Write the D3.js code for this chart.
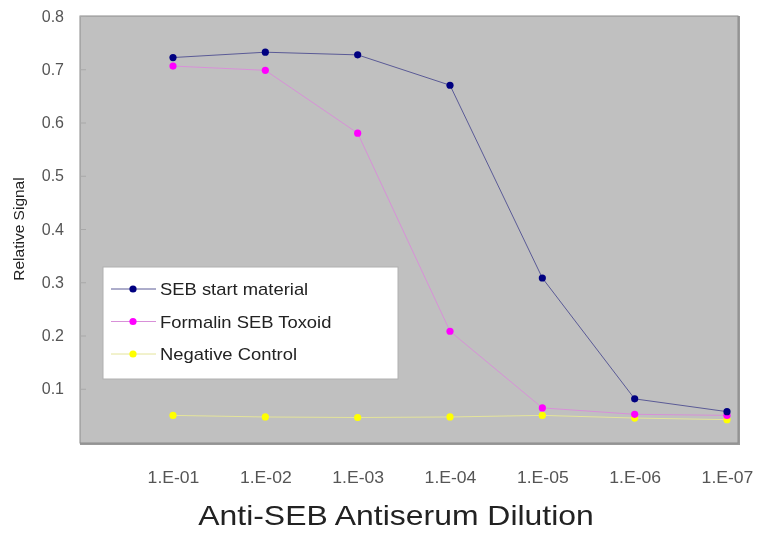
<!DOCTYPE html>
<html>
<head>
<style>
	body { margin: 0; background: #fff; }
	#chart { position: fixed; left: 0; top: 0; width: 757px; height: 533px; }
	text { font-family: "Liberation Sans", Arial, sans-serif; }
</style>
<script src="https://d3js.org/d3.v7.min.js"></script>
</head>
<body>
<div id="chart"></div>
<script>
	// Data
	var dilutions = ["1.E-01", "1.E-02", "1.E-03", "1.E-04", "1.E-05", "1.E-06", "1.E-07"];
	var sebStart = [0.722, 0.732, 0.727, 0.670, 0.308, 0.081, 0.057];
	var formalinToxoid = [0.706, 0.698, 0.580, 0.208, 0.064, 0.052, 0.050];
	var negativeControl = [0.050, 0.047, 0.046, 0.047, 0.050, 0.045, 0.042];
	var yTicks = [0.1, 0.2, 0.3, 0.4, 0.5, 0.6, 0.7, 0.8];

	var seriesList = [
		{name: "SEB start material", values: sebStart, color: "#000080", line: "#5a5a96"},
		{name: "Formalin SEB Toxoid", values: formalinToxoid, color: "#ff00ff", line: "#d890d8"},
		{name: "Negative Control", values: negativeControl, color: "#ffff00", line: "#e4e49a"}
	];

	function drawGraphic() {
		var margin = {top: 16, right: 19, bottom: 90, left: 80},
			width = 757 - margin.left - margin.right,
			height = 533 - margin.top - margin.bottom;

		var svg = d3.select("#chart").append("svg")
			.attr("width", 757)
			.attr("height", 533);

		var g = svg.append("g")
			.attr("transform", "translate(" + margin.left + "," + margin.top + ")");

		// plot area
		g.append("rect")
			.attr("x", 1).attr("y", 1)
			.attr("width", width).attr("height", height)
			.attr("fill", "none").attr("stroke", "#9a9a9a").attr("stroke-width", 2);
		g.append("rect")
			.attr("width", width).attr("height", height)
			.attr("fill", "#c0c0c0").attr("stroke", "#8c8c8c");

		var x = d3.scalePoint()
			.domain(dilutions)
			.range([93, 647]);

		var y = d3.scaleLinear()
			.domain([0, 0.8])
			.range([426, 0]);

		// y axis: labels plus tiny inner ticks
		var yAxis = g.append("g")
			.call(d3.axisLeft(y).tickValues(yTicks).tickSize(-6).tickPadding(16)
				.tickFormat(d3.format(".1f")));
		yAxis.select(".domain").remove();
		yAxis.selectAll("line").attr("stroke", "#a8a8a8");
		yAxis.selectAll("text")
			.attr("fill", "#555").attr("font-size", "16px")
			.attr("font-family", "Liberation Sans, Arial, sans-serif");

		// x axis labels only (the source picture is a little stretched sideways)
		var xAxis = g.append("g")
			.attr("transform", "translate(0," + height + ")")
			.call(d3.axisBottom(x).tickSize(0).tickPadding(29));
		xAxis.select(".domain").remove();
		xAxis.selectAll("text")
			.attr("fill", "#555").attr("font-size", "16px")
			.attr("font-family", "Liberation Sans, Arial, sans-serif")
			.attr("transform", "scale(1.1,1)");

		// lines and markers
		var line = d3.line()
			.x(function(d, i) { return x(dilutions[i]); })
			.y(function(d) { return y(d); });

		seriesList.slice().reverse().forEach(function(s) {
			g.append("path")
				.datum(s.values)
				.attr("d", line)
				.attr("fill", "none")
				.attr("stroke", s.line)
				.attr("stroke-width", 1);
		});
		seriesList.slice().reverse().forEach(function(s) {
			g.selectAll(null)
				.data(s.values)
				.enter()
				.append("circle")
				.attr("cx", function(d, i) { return x(dilutions[i]); })
				.attr("cy", function(d) { return y(d); })
				.attr("r", 3.6)
				.attr("fill", s.color);
		});

		// legend
		var legend = g.append("g").attr("transform", "translate(23,251)");
		legend.append("rect")
			.attr("width", 295).attr("height", 112)
			.attr("fill", "#fff").attr("stroke", "#b0b0b0");
		var items = legend.selectAll("g.item")
			.data(seriesList)
			.enter()
			.append("g")
			.attr("transform", function(d, i) { return "translate(0," + (22 + i * 32.5) + ")"; });
		items.append("line")
			.attr("x1", 8).attr("x2", 53)
			.attr("stroke", function(d) { return d.line; });
		items.append("circle")
			.attr("cx", 30).attr("r", 3.6)
			.attr("fill", function(d) { return d.color; });
		items.append("text")
			.text(function(d) { return d.name; })
			.attr("x", 57 / 1.15)
			.attr("y", 6)
			.attr("transform", "scale(1.15,1)")
			.attr("font-size", "16px")
			.attr("fill", "#222");

		// axis titles
		svg.append("text")
			.text("Relative Signal")
			.attr("transform", "translate(24,229) rotate(-90)")
			.attr("text-anchor", "middle")
			.attr("font-size", "15.5px")
			.attr("fill", "#222");
		svg.append("text")
			.text("Anti-SEB Antiserum Dilution")
			.attr("transform", "translate(396,525) scale(1.12,1)")
			.attr("text-anchor", "middle")
			.attr("font-size", "28.5px")
			.attr("fill", "#222");
	}

	drawGraphic();
</script>
</body>
</html>
